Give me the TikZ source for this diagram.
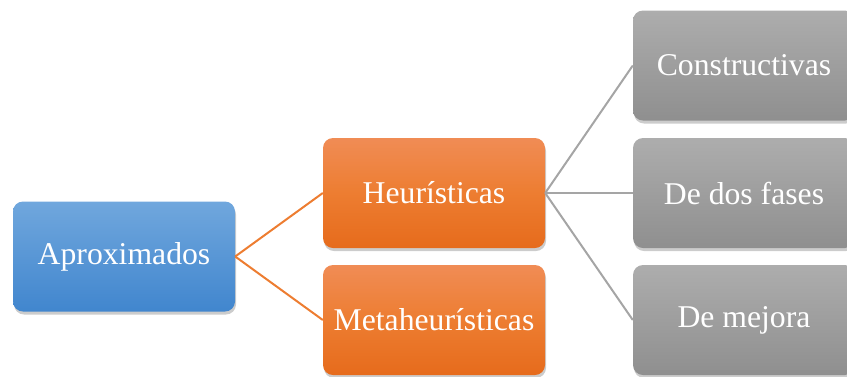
\documentclass[tikz,border=0pt]{standalone}
\usepackage{fontspec}
\setmainfont{Liberation Serif}
\newfontfamily\tnr{Liberation Serif}
\usetikzlibrary{shadows}
\definecolor{bluetop}{HTML}{70A7DD}
\definecolor{bluebot}{HTML}{4186CE}
\definecolor{orgtop}{HTML}{F08C55}
\definecolor{orgbot}{HTML}{E66B1C}
\definecolor{graytop}{HTML}{ADADAD}
\definecolor{graybot}{HTML}{8F8F8F}
\definecolor{orgline}{HTML}{ED7D31}
\definecolor{grayline}{HTML}{A5A5A5}
\begin{document}
\begin{tikzpicture}[x=1pt,y=-1pt,
  box/.style={rounded corners=10pt, minimum width=222pt, minimum height=110pt,
    inner sep=0pt, text=white, font=\tnr\fontsize{31.7}{36}\selectfont,
    drop shadow={opacity=0.4, shadow xshift=1pt, shadow yshift=-3pt}},
  bluebox/.style={box, top color=bluetop, bottom color=bluebot},
  orgbox/.style={box, top color=orgtop, bottom color=orgbot, middle color=orgline},
  graybox/.style={box, top color=graytop, bottom color=graybot},
  orgconn/.style={draw=orgline, line width=2pt},
  grayconn/.style={draw=grayline, line width=2pt}]
\useasboundingbox (0,0) rectangle (847,376);
\node[bluebox] (apr) at (124,256.5) {Aproximados};
\node[orgbox] (heu) at (434,193) {Heurísticas};
\node[orgbox] (meta) at (434,320) {Metaheurísticas};
\node[graybox] (con) at (744,65.5) {Constructivas};
\node[graybox] (dos) at (744,193) {De dos fases};
\node[graybox] (mej) at (744,320) {De mejora};
\draw[orgconn] (apr.east) -- (heu.west);
\draw[orgconn] (apr.east) -- (meta.west);
\draw[grayconn] (heu.east) -- (con.west);
\draw[grayconn] (heu.east) -- (dos.west);
\draw[grayconn] (heu.east) -- (mej.west);
\end{tikzpicture}
\end{document}
